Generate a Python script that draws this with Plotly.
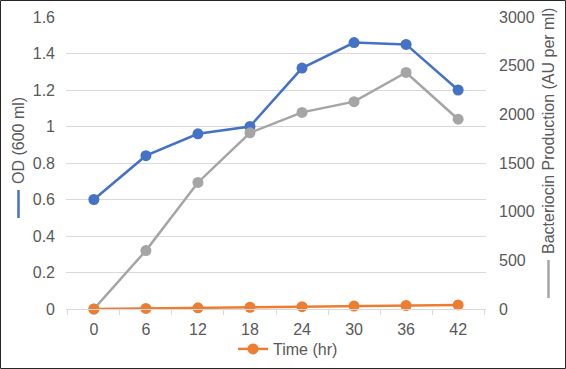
import plotly.graph_objects as go

time_hr = [0, 6, 12, 18, 24, 30, 36, 42]
categories = [str(t) for t in time_hr]
od_600 = [0.60, 0.84, 0.96, 1.00, 1.32, 1.46, 1.45, 1.20]
bacteriocin = [0, 600, 1300, 1810, 2020, 2130, 2430, 1950]

W, H = 566, 369
L, R, T, B = 66, 80, 17, 60
PW, PH = W - L - R, H - T - B

def px(x):
    return (x - L) / PW

def py(y):
    return (H - B - y) / PH

BLUE, ORANGE, GRAY = "#4472C4", "#ED7D31", "#A5A5A5"
TXT = "#595959"
FONT = "Liberation Sans, Arial, sans-serif"

fig = go.Figure()
fig.add_trace(go.Scatter(x=categories, y=od_600, mode="lines+markers", name="OD (600 ml)",
                         line=dict(color=BLUE, width=2.5), marker=dict(size=11, color=BLUE),
                         showlegend=False, cliponaxis=False))
fig.add_trace(go.Scatter(x=categories, y=bacteriocin, mode="lines+markers", name="Bacteriocin",
                         line=dict(color=GRAY, width=2.5), marker=dict(size=11, color=GRAY),
                         yaxis="y2", showlegend=False, cliponaxis=False))
fig.add_trace(go.Scatter(x=categories, y=time_hr, mode="lines+markers", name="Time (hr)",
                         line=dict(color=ORANGE, width=2.5), marker=dict(size=11, color=ORANGE),
                         yaxis="y2", showlegend=True, cliponaxis=False))

fig.update_layout(
    width=W, height=H,
    margin=dict(l=L, r=R, t=T, b=B, autoexpand=False),
    paper_bgcolor="white", plot_bgcolor="white",
    font=dict(family=FONT, size=16, color=TXT),
    xaxis=dict(type="category", tickson="boundaries", ticks="outside", ticklen=5,
               tickcolor="#D9D9D9", showline=True, linecolor="#D9D9D9", linewidth=1,
               showgrid=False, zeroline=False, ticklabelstandoff=6, automargin=False),
    yaxis=dict(range=[0, 1.6], tickvals=[0, 0.2, 0.4, 0.6, 0.8, 1, 1.2, 1.4, 1.6],
               ticktext=["0", "0.2", "0.4", "0.6", "0.8", "1", "1.2", "1.4", "1.6"],
               showgrid=True, gridcolor="#D9D9D9", gridwidth=1, zeroline=False,
               showline=False, ticks="", ticklabelstandoff=10, automargin=False),
    yaxis2=dict(range=[0, 3000], dtick=500, overlaying="y", side="right",
                showgrid=False, zeroline=False, showline=False, ticks="",
                ticklabelstandoff=12, automargin=False),
    legend=dict(orientation="h", x=px(288), xanchor="center", y=py(349), yanchor="middle",
                font=dict(size=16, color=TXT), bgcolor="rgba(0,0,0,0)"),
    showlegend=True,
)

fig.add_annotation(text="OD (600 ml)", xref="paper", yref="paper", x=px(18), y=py(141),
                   textangle=-90, showarrow=False, xanchor="center", yanchor="middle",
                   font=dict(size=16, color=TXT))
fig.add_annotation(text="Bacteriocin Production (AU per ml)", xref="paper", yref="paper",
                   x=px(548), y=py(131), textangle=-90, showarrow=False,
                   xanchor="center", yanchor="middle", font=dict(size=16, color=TXT))

fig.add_shape(type="line", xref="paper", yref="paper", x0=px(18.5), x1=px(18.5),
              y0=py(190), y1=py(218), line=dict(color=BLUE, width=2.5))
fig.add_shape(type="line", xref="paper", yref="paper", x0=px(548.5), x1=px(548.5),
              y0=py(260), y1=py(298), line=dict(color=GRAY, width=2.5))
fig.add_shape(type="rect", xref="paper", yref="paper", x0=px(0.5), x1=px(565.5),
              y0=py(368.5), y1=py(0.5), line=dict(color="#262626", width=1))

fig.write_html("out.html", config={"displayModeBar": False},
               post_script="document.body.style.margin='0';document.body.style.overflow='hidden';")
